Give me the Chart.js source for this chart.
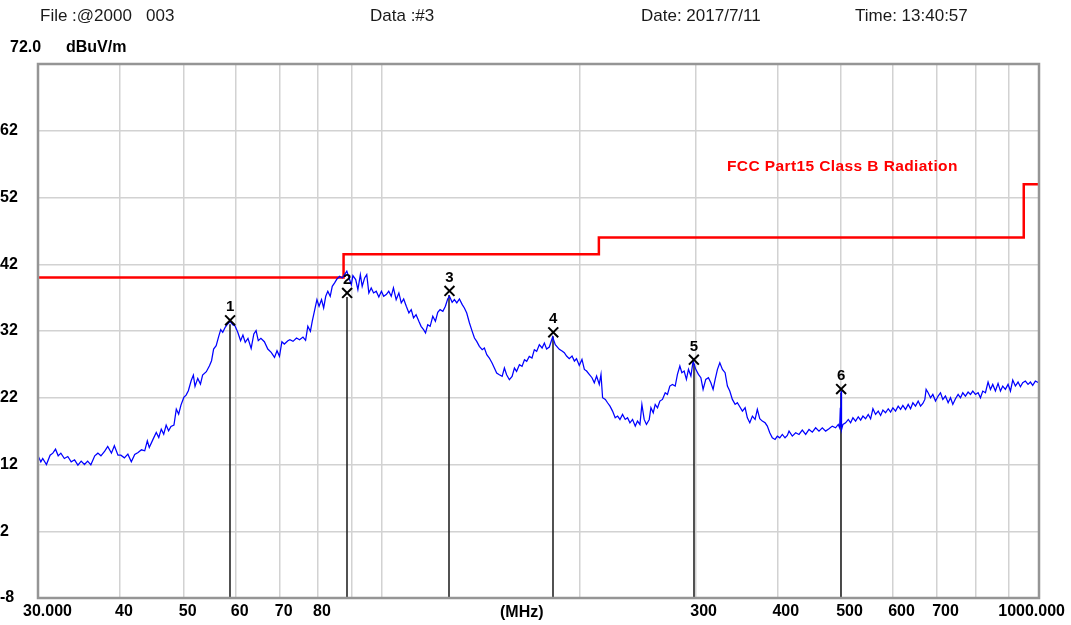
<!DOCTYPE html>
<html><head><meta charset="utf-8">
<script src="https://cdn.jsdelivr.net/npm/chart.js@4/dist/chart.umd.min.js"></script>
<style>
html,body{margin:0;padding:0;background:#fff;}
#wrap{position:relative;width:1071px;height:625px;overflow:hidden;font-family:"Liberation Sans",Arial,sans-serif;}
canvas{position:absolute;left:0;top:0;}
.t{position:absolute;white-space:pre;line-height:1;}
.hdr{font-size:17px;color:#1a1a1a;top:7px;}
.unit{font-size:16px;font-weight:bold;color:#000;top:39px;}
.fcc{font-size:15.5px;font-weight:bold;color:#ff0000;top:158px;left:727px;letter-spacing:0.4px;}
.mhz{font-size:16px;font-weight:bold;color:#000;top:604px;left:500px;}
</style></head><body>
<div id="wrap">
<canvas id="c" width="1071" height="625"></canvas>
<div class="t hdr" style="left:40px">File :@2000   003</div>
<div class="t hdr" style="left:370px">Data :#3</div>
<div class="t hdr" style="left:641px">Date: 2017/7/11</div>
<div class="t hdr" style="left:855px">Time: 13:40:57</div>
<div class="t unit" style="left:10px">72.0</div>
<div class="t unit" style="left:66px">dBuV/m</div>
<div class="t fcc">FCC Part15 Class B Radiation</div>
<div class="t mhz">(MHz)</div>
</div>
<script>
// ---- data ----
const traceFreq = [
30.0,30.3,30.5,30.9,31.3,31.6,31.9,32.2,32.5,32.9,33.3,33.7,34.1,34.5,34.9,35.3,35.7,36.1,36.6,37.0,
37.4,37.9,38.3,38.8,39.2,39.7,40.1,40.6,41.1,41.6,42.1,42.6,43.1,43.6,44.0,44.3,44.9,45.4,45.8,46.2,
46.6,47.0,47.4,47.8,48.3,48.7,49.1,49.5,50.0,50.4,50.8,51.3,51.7,52.0,52.5,53.0,53.4,54.1,54.7,55.1,
55.5,56.0,56.5,56.9,57.3,57.8,58.3,58.8,59.4,59.8,60.4,61.0,61.5,62.0,62.6,63.3,63.9,64.4,64.9,65.5,
66.3,67.1,67.9,68.7,69.3,69.9,70.5,71.1,72.0,
72.5,73.3,74.2,75.0,75.9,76.6,77.2,77.9,78.4,79.1,79.7,80.3,81.0,81.6,82.2,82.8,83.5,84.1,84.8,85.5,
86.3,87.1,87.8,88.5,89.2,89.9,90.4,91.3,92.0,92.8,93.4,94.2,94.9,95.6,96.4,97.2,98.1,99.0,99.9,100.7,
101.6,102.5,103.4,104.2,105.2,106.2,107.1,108.0,109.0,110.0,110.9,111.8,112.8,113.9,114.8,115.8,116.6,117.5,118.5,119.6,
120.7,121.7,122.7,123.9,125.0,126.0,126.8,128.0,129.0,130.1,131.3,132.6,133.6,134.7,136.0,137.3,138.4,139.5,140.8,142.2,
143.3,144.5,145.8,147.2,148.4,149.6,151.0,152.5,153.7,154.9,156.4,157.9,159.2,160.4,162.0,163.5,164.9,166.2,167.7,169.3,
170.7,172.1,173.7,175.4,176.8,178.2,179.9,182.0,183.7,
186.3,188.1,189.6,191.1,192.9,194.8,196.4,197.9,199.8,201.7,203.4,205.0,206.9,208.9,210.6,212.3,214.3,215.6,216.8,218.9,
220.6,222.5,224.5,226.6,228.5,230.4,232.5,234.7,236.6,238.6,240.8,243.1,245.0,247.1,248.8,250.8,252.8,255.3,256.8,258.9,
260.7,262.8,265.0,267.4,270.0,272.1,274.4,276.9,279.6,281.8,284.2,286.2,288.5,290.8,292.9,295.4,297.7,300.5,303.3,305.9,
308.3,311.2,314.1,316.8,319.3,321.6,324.2,326.9,329.9,333.0,335.7,338.5,341.6,344.9,347.6,350.6,353.8,357.2,360.0,363.1,
366.4,369.9,372.8,376.0,379.4,383.1,386.1,389.4,392.9,396.7,399.9,403.3,406.9,410.8,414.1,
416.6,421.4,426.4,431.4,436.4,441.6,446.8,452.0,457.3,462.7,468.1,473.6,479.2,484.7,490.4,495.0,497.4,498.6,499.3,500.0,
500.7,503.2,507.9,512.7,516.9,521.1,526.0,530.9,535.4,539.7,544.7,549.8,554.4,558.9,564.1,569.4,574.2,578.8,584.2,589.7,
594.6,599.4,605.0,610.6,615.8,620.7,626.5,632.4,637.7,642.9,648.8,654.9,660.4,665.7,670.4,673.4,678.2,683.9,689.4,695.9,
702.4,708.2,714.0,720.6,727.4,733.5,739.4,746.3,753.3,759.6,765.7,772.8,780.1,786.6,793.0,800.4,807.9,814.6,821.2,828.9,
836.6,843.6,850.4,858.4,866.4,873.7,880.7,888.9,897.3,904.8,912.1,920.6,929.2,937.0,944.6,953.4,962.3,970.3,978.2,987.3,
1000
];
const traceLevel = [
13.3,12.4,12.9,12.0,13.4,13.7,14.3,13.3,13.7,12.9,13.2,12.4,12.7,11.9,12.5,12.0,12.5,11.95,13.3,13.7,
13.3,14.0,14.7,13.7,14.8,13.4,13.4,13.0,13.55,12.4,13.5,13.8,14.2,14.05,15.55,14.55,15.8,16.8,16.05,17.3,
16.55,17.9,17.05,17.7,17.9,20.3,19.55,20.9,22.05,22.4,23.05,24.55,25.4,23.7,24.9,24.05,25.4,25.9,26.8,27.55,
29.3,29.8,31.2,32.2,31.8,32.55,33.05,33.4,32.9,32.8,31.8,30.55,31.4,30.3,30.9,29.4,31.55,32.05,30.55,30.9,
30.4,29.3,28.8,28.05,29.05,28.2,30.4,30.05,30.55,
30.7,30.45,30.95,30.7,31.1,30.6,32.7,31.95,33.45,35.2,36.7,35.7,36.7,35.45,37.2,37.95,37.2,38.7,39.2,39.8,
40.2,39.95,40.45,40.95,39.95,38.95,40.3,39.7,38.2,40.45,38.7,39.95,40.45,37.7,38.45,37.7,37.95,37.1,37.95,37.2,
37.45,37.95,37.2,38.45,36.7,37.7,36.2,36.8,35.7,34.7,35.2,33.95,34.45,33.45,32.7,32.2,31.7,32.95,32.7,34.2,
33.45,34.8,35.2,34.95,35.7,36.8,37.2,36.3,36.7,36.2,36.8,35.95,35.45,34.7,33.2,31.95,30.95,30.45,29.7,29.2,
29.45,28.45,27.95,27.2,26.45,25.7,25.45,25.2,26.45,25.45,24.7,25.2,26.45,25.95,26.95,26.7,27.7,27.45,28.2,27.95,
29.2,28.95,29.95,29.45,30.2,29.3,29.6,31.1,29.95,
29.25,29.0,28.75,28.25,27.85,28.25,27.5,27.85,26.85,27.75,26.25,26.0,25.5,25.0,24.25,25.25,24.0,25.5,22.0,21.75,
21.25,20.75,20.0,19.0,19.25,18.75,19.5,18.75,19.0,18.25,18.75,17.75,18.5,18.0,21.0,18.75,18.0,18.75,20.5,19.75,
21.0,20.5,21.5,21.75,22.75,22.5,23.75,24.0,23.75,25.5,26.75,25.75,26.0,24.75,26.25,25.25,27.5,26.25,25.5,25.0,
23.25,24.75,25.0,24.25,23.25,24.75,26.25,27.25,26.25,25.75,23.75,23.0,21.75,21.0,21.25,20.65,20.0,20.5,19.0,18.25,
19.25,18.75,20.25,18.85,18.5,18.25,17.75,16.75,16.0,15.75,16.25,16.0,16.5,16.0,16.35,
17.0,16.25,16.75,16.5,17.15,16.5,17.25,16.85,17.5,17.0,17.5,17.0,17.35,17.75,17.5,18.0,17.5,20.5,17.6,23.0,
17.2,18.0,18.25,18.75,18.25,19.0,18.5,19.15,18.65,19.25,18.85,19.5,18.85,20.35,19.5,20.0,19.35,20.15,19.75,20.35,
19.85,20.5,20.0,20.75,20.25,20.85,20.25,21.0,20.35,21.25,20.75,21.5,20.75,21.15,21.75,23.25,22.75,22.0,22.5,21.5,
22.25,22.75,21.75,22.25,21.25,22.0,21.0,21.85,22.5,22.0,22.75,22.25,22.85,22.5,23.0,22.5,22.75,22.0,23.0,22.75,
24.35,23.25,24.0,23.0,24.15,23.0,23.75,23.25,24.0,23.0,24.65,23.75,24.35,23.65,24.25,24.5,24.0,24.35,23.85,24.5,
24.2
];
const limitFreq  = [30, 87.5, 87.5, 214, 214, 948, 948, 1000];
const limitLevel = [40, 40, 43.5, 43.5, 46, 46, 54, 54];
const markerFreq  = [58.8, 88.6, 126.8, 182.4, 298.5, 500];
const markerLevel = [33.6, 37.7, 38.0, 31.8, 27.7, 23.3];
const markerLabels = ['1','2','3','4','5','6'];
const xTicks = [30,40,50,60,70,80,90,100,200,300,400,500,600,700,800,900,1000];
const xTickLabels = ['30.000','40','50','60','70','80','','','','300','400','500','600','700','','','1000.000'];
const yTicks = [-8,2,12,22,32,42,52,62,72];
const yTickLabels = ['-8','2','12','22','32','42','52','62',''];

// ---- chart ----
const FONT = '"Liberation Sans", Arial, sans-serif';
const pts = (xs, ys) => xs.map((v, i) => ({x: v, y: ys[i]}));

const overlay = {
  id: 'overlay',
  beforeDatasetsDraw(chart) {
    const {ctx, scales: {x, y}} = chart;
    ctx.save();
    ctx.strokeStyle = '#262626';
    ctx.lineWidth = 1.6;
    const yb = y.getPixelForValue(-8);
    markerFreq.forEach((f, i) => {
      const px = Math.round(x.getPixelForValue(f));
      const py = y.getPixelForValue(markerLevel[i]);
      ctx.beginPath(); ctx.moveTo(px, py + 4); ctx.lineTo(px, yb); ctx.stroke();
    });
    ctx.restore();
  },
  afterDraw(chart) {
    const {ctx, chartArea: a, scales: {x, y}} = chart;
    ctx.save();
    ctx.strokeStyle = '#959595';
    ctx.lineWidth = 2.5;
    ctx.strokeRect(a.left, a.top, a.right - a.left, a.bottom - a.top);
    // x labels
    ctx.fillStyle = '#000';
    ctx.font = 'bold 16px ' + FONT;
    ctx.textBaseline = 'middle';
    const last = xTicks.length - 1;
    xTicks.forEach((v, i) => {
      const lab = xTickLabels[i];
      if (!lab) return;
      const px = x.getPixelForValue(v);
      if (i === 0) { ctx.textAlign = 'left'; ctx.fillText(lab, px - 15, 612); }
      else if (i === last) { ctx.textAlign = 'right'; ctx.fillText(lab, px + 26, 612); }
      else { ctx.textAlign = 'left'; ctx.fillText(lab, px - 5, 612); }
    });
    // marker numbers
    ctx.font = 'bold 15px ' + FONT;
    ctx.textAlign = 'center';
    markerFreq.forEach((f, i) => {
      const px = x.getPixelForValue(f);
      const py = y.getPixelForValue(markerLevel[i]);
      ctx.fillText(markerLabels[i], px, py - 13);
    });
    ctx.restore();
  }
};

new Chart(document.getElementById('c'), {
  type: 'scatter',
  data: {
    datasets: [
      { data: pts(markerFreq, markerLevel), pointStyle: 'crossRot', pointRadius: 7,
        pointBorderWidth: 2, pointBorderColor: '#000', pointBackgroundColor: '#000', showLine: false },
      { data: pts(traceFreq, traceLevel), showLine: true, borderColor: '#0000ff', borderWidth: 1.25,
        pointRadius: 0, tension: 0 },
      { data: pts(limitFreq, limitLevel), showLine: true, borderColor: '#ff0000', borderWidth: 2.5,
        pointRadius: 0, tension: 0 }
    ]
  },
  options: {
    responsive: false, animation: false, events: [],
    layout: { padding: { left: 0, top: 64, right: 32, bottom: 0 } },
    plugins: { legend: { display: false }, tooltip: { enabled: false } },
    scales: {
      x: {
        type: 'logarithmic', min: 30, max: 1000,
        afterBuildTicks: s => { s.ticks = xTicks.map(v => ({ value: v })); },
        afterFit: s => { s.height = 27; },
        ticks: { display: false },
        grid: { color: '#d2d2d2', lineWidth: 1.5, drawTicks: false },
        border: { display: false }
      },
      y: {
        type: 'linear', min: -8, max: 72,
        afterBuildTicks: s => { s.ticks = yTicks.map(v => ({ value: v })); },
        afterFit: s => { s.width = 38; },
        ticks: {
          crossAlign: 'far', padding: 0, color: '#000',
          font: { family: FONT, size: 16, weight: 'bold' },
          callback: v => yTickLabels[yTicks.indexOf(v)]
        },
        grid: { color: '#d2d2d2', lineWidth: 1.5, drawTicks: false },
        border: { display: false }
      }
    }
  },
  plugins: [overlay]
});
</script>
</body></html>
